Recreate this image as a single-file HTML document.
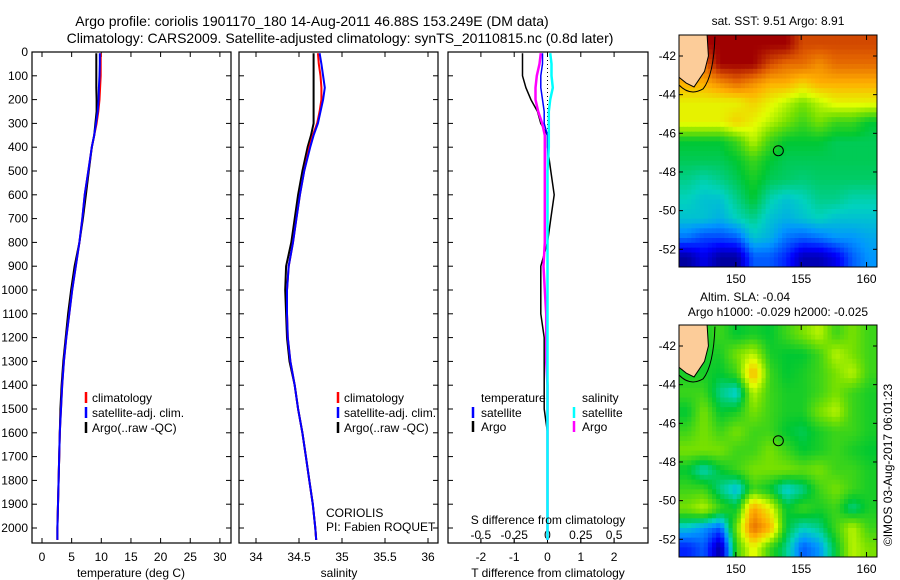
<!DOCTYPE html>
<html><head><meta charset="utf-8"><style>
body{margin:0;background:#fff}
svg{display:block;font-family:"Liberation Sans",sans-serif;font-size:12px}
</style></head><body>
<svg id="fig" width="900" height="580" viewBox="0 0 900 580">
<defs>
<clipPath id="clipTop"><rect x="679" y="35" width="198" height="232"/></clipPath>
<clipPath id="clipBot"><rect x="679" y="325" width="198" height="232"/></clipPath>
</defs>
<text x="312" y="26" text-anchor="middle" font-size="14">Argo profile: coriolis 1901170_180 14-Aug-2011 46.88S 153.249E (DM data)</text>
<text x="340" y="43" text-anchor="middle" font-size="14">Climatology: CARS2009. Satellite-adjusted climatology: synTS_20110815.nc (0.8d later)</text>
<g id="g"></g>
</svg>
<script>
// ---- profile data ----
const depths=[5,50,100,150,200,250,300,350,400,500,600,700,800,900,1000,1100,1200,1300,1400,1500,1600,1700,1800,1900,2000,2050];
const tempClim=[9.9,9.9,9.9,9.8,9.7,9.5,9.2,8.8,8.4,7.8,7.2,6.8,6.3,5.7,5.1,4.6,4.1,3.7,3.4,3.2,3.0,2.9,2.8,2.7,2.6,2.6];
const tempSat=[9.75,9.75,9.7,9.6,9.55,9.4,9.1,8.8,8.4,7.8,7.2,6.8,6.3,5.7,5.1,4.6,4.1,3.7,3.4,3.2,3.0,2.9,2.8,2.7,2.6,2.6];
const tempArgo=[9.15,9.15,9.15,9.15,9.2,9.2,9.0,8.8,8.4,7.9,7.4,6.9,6.3,5.5,4.9,4.4,4.0,3.6,3.3,3.1,3.0,2.9,2.8,2.7,2.6,2.6];
const salClim=[34.72,34.73,34.75,34.76,34.76,34.74,34.71,34.66,34.62,34.56,34.51,34.47,34.43,34.38,34.36,34.36,34.37,34.40,34.45,34.49,34.54,34.58,34.62,34.66,34.69,34.70];
const salSat=[34.74,34.76,34.78,34.80,34.78,34.75,34.72,34.67,34.63,34.56,34.51,34.47,34.43,34.38,34.36,34.36,34.37,34.40,34.45,34.49,34.54,34.58,34.62,34.66,34.69,34.70];
const salArgo=[34.67,34.67,34.67,34.67,34.67,34.67,34.67,34.64,34.60,34.54,34.49,34.45,34.41,34.35,34.34,34.35,34.36,34.39,34.45,34.49,34.54,34.58,34.62,34.66,34.69,34.70];
const depthTicks=[0,100,200,300,400,500,600,700,800,900,1000,1100,1200,1300,1400,1500,1600,1700,1800,1900,2000];
const tempTicks=[0,5,10,15,20,25,30];
const salTicks=[34,34.5,35,35.5,36];
const tDiffTicks=[-2,-1,0,1,2];
const sDiffTicks=[-0.5,-0.25,0,0.25,0.5];
const sDiffLabels=["-0.5","-0.25","0","0.25","0.5"];
// ---- map data (0..1 colour index), 12x12 ----
const sstGrid=[
[.95,.95,.95,.95,.95,.95,.95,.85,.85,.85,.85,.85],
[.8,.8,.95,.95,.95,.85,.8,.8,.75,.8,.8,.8],
[.7,.7,.75,.8,.75,.7,.7,.65,.7,.7,.7,.7],
[.6,.6,.6,.6,.65,.6,.55,.5,.55,.6,.6,.6],
[.6,.6,.6,.65,.6,.55,.5,.45,.5,.45,.45,.4],
[.4,.4,.4,.45,.55,.45,.4,.4,.4,.38,.38,.38],
[.38,.38,.38,.4,.45,.4,.38,.38,.38,.38,.38,.38],
[.35,.33,.35,.38,.42,.38,.37,.36,.37,.37,.37,.37],
[.32,.3,.3,.35,.4,.33,.3,.32,.35,.35,.33,.33],
[.3,.3,.28,.32,.35,.3,.28,.3,.32,.3,.3,.3],
[.22,.18,.18,.2,.3,.28,.22,.2,.22,.25,.25,.27],
[.03,.1,.03,.03,.2,.2,.15,.05,.05,.1,.2,.25]];
const slaGrid=[
[.42,.42,.45,.4,.42,.4,.45,.5,.55,.45,.5,.45],
[.42,.42,.42,.5,.55,.42,.4,.4,.45,.55,.5,.45],
[.42,.42,.4,.45,.7,.45,.4,.42,.45,.5,.55,.45],
[.45,.45,.35,.3,.55,.45,.42,.42,.45,.5,.45,.42],
[.4,.5,.4,.42,.5,.45,.42,.42,.5,.55,.45,.42],
[.45,.5,.45,.5,.45,.45,.4,.38,.42,.45,.45,.42],
[.5,.5,.5,.45,.45,.5,.45,.4,.42,.45,.42,.4],
[.4,.32,.4,.45,.5,.5,.5,.48,.5,.45,.45,.42],
[.45,.45,.35,.28,.45,.4,.3,.35,.45,.5,.45,.42],
[.5,.55,.45,.4,.72,.6,.4,.45,.42,.45,.35,.42],
[.3,.25,.2,.5,.8,.7,.4,.32,.35,.45,.55,.45],
[.15,.2,.03,.45,.6,.45,.35,.2,.25,.4,.55,.5]];
const lonTicks=[150,155,160];
const latTicks=[-42,-44,-46,-48,-50,-52];
const argoLon=153.25, argoLat=-46.9;

const NS='http://www.w3.org/2000/svg';
const G=document.getElementById('g');
function el(t,a,p){const e=document.createElementNS(NS,t);for(const k in a)e.setAttribute(k,a[k]);(p||G).appendChild(e);return e;}
function txt(s,a,p){const e=el('text',a,p);e.textContent=s;return e;}
const yD=d=>52+d*0.238;
const PY0=52,PY1=543;
function panel(x0,x1,name){
  const r=el('rect',{x:x0,y:PY0,width:x1-x0,height:PY1-PY0,fill:'none',stroke:'#000','stroke-width':1.2});
  
  
  depthTicks.forEach(d=>{const y=yD(d);el('line',{x1:x0,x2:x0+5,y1:y,y2:y,stroke:'#000'});el('line',{x1:x1-5,x2:x1,y1:y,y2:y,stroke:'#000'});});
}
function xTicks(vals,fx,labels,name){
  vals.forEach((v,i)=>{const x=fx(v);el('line',{x1:x,x2:x,y1:PY0,y2:PY0+5,stroke:'#000'});el('line',{x1:x,x2:x,y1:PY1-5,y2:PY1,stroke:'#000'});
  const t=txt(labels?labels[i]:String(v),{x:x,y:561,'text-anchor':'middle'});
  
  });
}
function line(xs,fx,col,w,name){
  const pts=xs.map((v,i)=>fx(v).toFixed(1)+','+yD(depths[i]).toFixed(1)).join(' ');
  const p=el('polyline',{points:pts,fill:'none',stroke:col,'stroke-width':w,'stroke-linejoin':'round'});
  
  
}
depthTicks.forEach(d=>{const t=txt(String(d),{x:28,y:yD(d)+4,'text-anchor':'end'});

});
// Panel 1 temperature
const fT=v=>42+v*5.93;
panel(32,231,'temperature-panel');
xTicks(tempTicks,fT,null,'temperature-x');
line(tempArgo,fT,'#000',2,'temp-argo-line');
line(tempClim,fT,'#f00',2,'temp-climatology-line');
line(tempSat,fT,'#00f',2,'temp-satellite-line');
txt('temperature (deg C)',{x:131,y:577,'text-anchor':'middle',});
function legend3(x,items,name){items.forEach((it,i)=>{const y=398+i*15;el('line',{x1:x,x2:x,y1:y-6,y2:y+5,stroke:it[1],'stroke-width':2.5});
const t=txt(it[0],{x:x+6,y:y+4});});}
legend3(86,[['climatology','#f00'],['satellite-adj. clim.','#00f'],['Argo(..raw -QC)','#000']],'temp-legend');
// Panel 2 salinity
const fS=v=>256+(v-34)*86;
panel(239,438,'salinity-panel');
xTicks(salTicks,fS,null,'salinity-x');
line(salArgo,fS,'#000',2,'sal-argo-line');
line(salClim,fS,'#f00',2,'sal-climatology-line');
line(salSat,fS,'#00f',2,'sal-satellite-line');
txt('salinity',{x:339,y:577,'text-anchor':'middle',});
legend3(338,[['climatology','#f00'],['satellite-adj. clim.','#00f'],['Argo(..raw -QC)','#000']],'sal-legend');
txt('CORIOLIS',{x:326,y:517,});
txt('PI: Fabien ROQUET',{x:326,y:531,});
// Panel 3 differences
const fdT=v=>547.5+v*33.3, fdS=v=>547.5+v*133.2;
panel(448,648,'difference-panel');
xTicks(tDiffTicks,fdT,null,'t-diff-x');
sDiffTicks.forEach((v,i)=>{const x=fdS(v);el('line',{x1:x,x2:x,y1:PY1-5,y2:PY1,stroke:'#000'});
const t=txt(sDiffLabels[i],{x:x,y:539,'text-anchor':'middle'});});
el('line',{x1:547.5,x2:547.5,y1:PY0,y2:PY1,stroke:'#000','stroke-dasharray':'1,3'});
const dTs=tempSat.map((v,i)=>v-tempClim[i]), dTa=tempArgo.map((v,i)=>v-tempClim[i]);
const dSs=salSat.map((v,i)=>v-salClim[i]), dSa=salArgo.map((v,i)=>v-salClim[i]);
line(dTa,fdT,'#000',1.5,'t-diff-argo-line');
line(dSa,fdS,'#f0f',2.5,'s-diff-argo-line');
line(dTs,fdT,'#00f',1.5,'t-diff-satellite-line');
line(dSs,fdS,'#0ff',2.5,'s-diff-satellite-line');
txt('temperature',{x:481,y:402,});
txt('salinity',{x:582,y:402,});
[[473,'#00f','satellite',413],[473,'#000','Argo',427],[574,'#0ff','satellite',413],[574,'#f0f','Argo',427]].forEach(a=>{
el('line',{x1:a[0],x2:a[0],y1:a[3]-6,y2:a[3]+5,stroke:a[1],'stroke-width':2.5});
const t=txt(a[2],{x:a[0]+8,y:a[3]+4});});
txt('S difference from climatology',{x:548,y:524,'text-anchor':'middle',});
txt('T difference from climatology',{x:548,y:577,'text-anchor':'middle',});
// ---- maps ----
const stops=[[0,[0,0,128]],[.12,[0,0,255]],[.25,[0,150,255]],[.32,[0,210,190]],[.4,[0,200,50]],[.5,[120,225,0]],[.58,[225,255,0]],[.7,[255,175,0]],[.82,[225,95,0]],[.95,[160,0,0]],[1,[150,0,0]]];
function cmap(v){v=Math.max(0,Math.min(1,v));for(let i=1;i<stops.length;i++){if(v<=stops[i][0]){const a=stops[i-1],b=stops[i],t=(v-a[0])/(b[0]-a[0]);return 'rgb('+a[1].map((c,k)=>Math.round(c+(b[1][k]-c)*t)).join(',')+')';}}return 'rgb(150,0,0)';}
function sample(grid,fx,fy){ // bilinear sample at fractional cell coords
  const n=grid.length,m=grid[0].length;
  let x=Math.max(0,Math.min(m-1,fx)),y=Math.max(0,Math.min(n-1,fy));
  const x0=Math.floor(x),y0=Math.floor(y),x1=Math.min(m-1,x0+1),y1=Math.min(n-1,y0+1),tx=x-x0,ty=y-y0;
  return grid[y0][x0]*(1-tx)*(1-ty)+grid[y0][x1]*tx*(1-ty)+grid[y1][x0]*(1-tx)*ty+grid[y1][x1]*tx*ty;
}
const MX0=679,MX1=877,LON0=145.65;
const fLon=l=>MX0+(l-LON0)*13.07;
function map(y0,grid,name,clip){
  const fLat=la=>y0+21+(-42-la)*19.33;
  const g=el('g',{'clip-path':'url(#'+clip+')'});
  
  
  const S=4,NX=12*S,NY=12*S,cw=198/NX,ch=232/NY;
  for(let r=0;r<NY;r++)for(let c=0;c<NX;c++){
    const v=sample(grid,(c+0.5)/S-0.5,(r+0.5)/S-0.5);
    el('rect',{x:(MX0+c*cw).toFixed(2),y:(y0+r*ch).toFixed(2),width:(cw+0.6).toFixed(2),height:(ch+0.6).toFixed(2),fill:cmap(v)},g);
  }
  const land=el('path',{d:`M679 ${y0} L${fLon(147.8)} ${y0} L${fLon(147.9)} ${fLat(-42)} L${fLon(147.6)} ${fLat(-42.8)} L${fLon(147.2)} ${fLat(-43.2)} L${fLon(146.8)} ${fLat(-43.6)} L${fLon(146.2)} ${fLat(-43.4)} L679 ${fLat(-43.1)} Z`,fill:'#fccc99',stroke:'#000','stroke-width':1},g);
  
  
  el('path',{d:`M679 ${fLat(-43.5)} Q${fLon(146.5)} ${fLat(-44.1)} ${fLon(147.5)} ${fLat(-43.7)} Q${fLon(148.3)} ${fLat(-43)} ${fLon(148.4)} ${fLat(-41)}`,fill:'none',stroke:'#000','stroke-width':1},g);
  const c=el('circle',{cx:fLon(argoLon),cy:fLat(argoLat),r:5,fill:'none',stroke:'#000','stroke-width':1});
  
  
  el('rect',{x:MX0,y:y0,width:198,height:232,fill:'none',stroke:'#000','stroke-width':1});
  lonTicks.forEach(l=>{const x=fLon(l);el('line',{x1:x,x2:x,y1:y0,y2:y0+5,stroke:'#000'});el('line',{x1:x,x2:x,y1:y0+227,y2:y0+232,stroke:'#000'});
  const t=txt(String(l),{x:x,y:y0+248,'text-anchor':'middle'});});
  latTicks.forEach(la=>{const y=fLat(la);el('line',{x1:MX0,x2:MX0+4,y1:y,y2:y,stroke:'#000'});el('line',{x1:MX1-4,x2:MX1,y1:y,y2:y,stroke:'#000'});
  const t=txt(String(la),{x:676,y:y+4,'text-anchor':'end'});});
}
map(35,sstGrid,'sst-map','clipTop');
map(325,slaGrid,'sla-map','clipBot');
txt('sat. SST: 9.51  Argo: 8.91',{x:778,y:25,'text-anchor':'middle',});
txt('Altim. SLA: -0.04',{x:700,y:301,});
txt('Argo h1000: -0.029 h2000: -0.025',{x:778,y:316,'text-anchor':'middle',});
txt('©IMOS 03-Aug-2017 06:01:23',{x:0,y:0,'text-anchor':'middle',transform:'translate(892,465) rotate(-90)',});
</script>
</body></html>
